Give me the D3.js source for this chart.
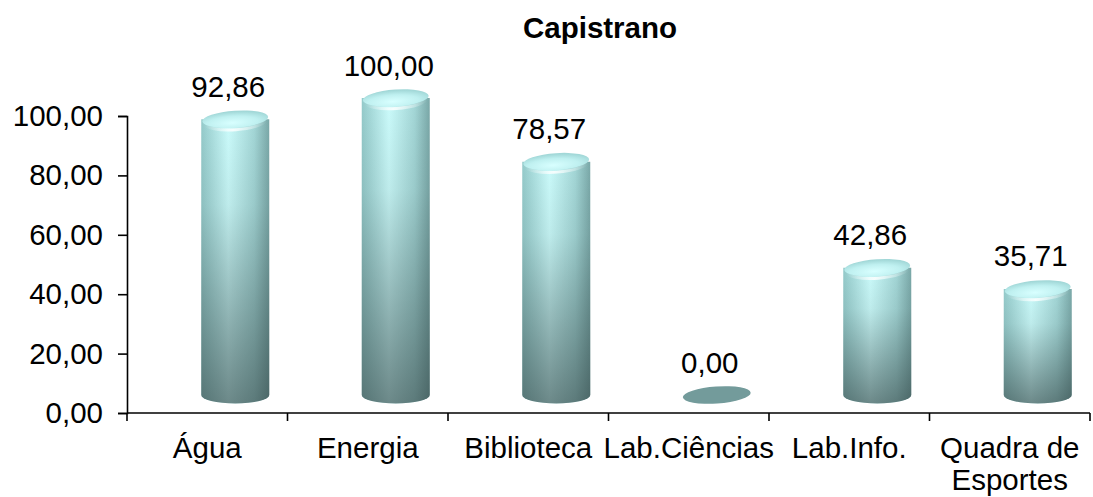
<!DOCTYPE html>
<html>
<head>
<meta charset="utf-8">
<script src="https://cdn.jsdelivr.net/npm/d3@7.9.0/dist/d3.min.js"></script>
<style>
  body { margin: 0; background: #fff; }
  svg { font-family: "Liberation Sans", Arial, sans-serif; }
</style>
</head>
<body>
<svg id="chart" width="1093" height="497"></svg>
<script>
const title = "Capistrano";
const categories = ["Água", "Energia", "Biblioteca", "Lab.Ciências", "Lab.Info.", "Quadra de Esportes"];
const values = [92.86, 100.00, 78.57, 0.00, 42.86, 35.71];
const yTicks = [0, 20, 40, 60, 80, 100];

const svg = d3.select("#chart");
const fmt = v => v.toFixed(2).replace(".", ",");
const fs = 29.5;

const x = d3.scaleBand().domain(categories).range([127, 1090]);
const y = d3.scaleLinear().domain([0, 100]).range([413, 116]);

// 3D floor offset
const depthX = 28, depthY = 18, rx = 34, ry = 8.5;

const defs = svg.append("defs");
const side = defs.append("linearGradient").attr("id", "side");
[[0, "#94caca"], [0.4, "#cbfbfb"], [0.78, "#a3d6d6"], [1, "#7aa8a8"]]
  .forEach(([o, c]) => side.append("stop").attr("offset", o).attr("stop-color", c));
const shade = defs.append("linearGradient").attr("id", "shade")
  .attr("x1", 0).attr("y1", 0).attr("x2", 0).attr("y2", 1);
[[0, "rgba(40,55,55,0)"], [0.3, "rgba(40,55,55,0.08)"], [1, "rgba(40,55,55,0.58)"]]
  .forEach(([o, c]) => shade.append("stop").attr("offset", o).attr("stop-color", c));
const cap = defs.append("radialGradient").attr("id", "cap")
  .attr("cx", 0.45).attr("cy", 0.7).attr("r", 0.65);
[[0, "#d8ffff"], [0.6, "#bff0f0"], [1, "#a2d8d8"]]
  .forEach(([o, c]) => cap.append("stop").attr("offset", o).attr("stop-color", c));
const rim = defs.append("linearGradient").attr("id", "rim");
[[0, "rgba(255,255,255,0)"], [0.45, "rgba(255,255,255,0.85)"], [1, "rgba(255,255,255,0)"]]
  .forEach(([o, c]) => rim.append("stop").attr("offset", o).attr("stop-color", c));

// title
svg.append("text")
  .attr("x", 600).attr("y", 38)
  .attr("text-anchor", "middle")
  .attr("font-size", fs).attr("font-weight", "bold")
  .text(title);

// y axis
const yAxis = svg.append("g")
  .attr("transform", "translate(127,0)")
  .call(d3.axisLeft(y).tickValues(yTicks).tickFormat(fmt).tickSize(9).tickPadding(15));
yAxis.selectAll("path, line").attr("stroke", "#000").attr("stroke-width", 1.6);
yAxis.selectAll("text").attr("font-size", fs).attr("fill", "#000")
  .attr("font-family", "Liberation Sans, Arial, sans-serif");

// x axis
const xg = svg.append("g");
xg.append("line")
  .attr("x1", 127).attr("x2", 1090).attr("y1", 413).attr("y2", 413)
  .attr("stroke", "#000").attr("stroke-width", 1.6);
xg.selectAll(".tick")
  .data(categories.map(c => x(c)).concat([x.range()[1]]))
  .join("line")
  .attr("x1", d => d).attr("x2", d => d)
  .attr("y1", 413).attr("y2", 421)
  .attr("stroke", "#000").attr("stroke-width", 1.6);
xg.selectAll(".lab")
  .data(categories)
  .join("text")
  .attr("text-anchor", "middle")
  .attr("font-size", fs)
  .each(function(d) {
    const words = d === "Quadra de Esportes" ? ["Quadra de", "Esportes"] : [d];
    d3.select(this).selectAll("tspan").data(words).join("tspan")
      .attr("x", x(d) + x.bandwidth() / 2)
      .attr("y", (w, i) => 458 + i * 32)
      .text(w => w);
  });

// cylinders
const bars = svg.append("g").selectAll("g")
  .data(categories.map((c, i) => ({ c, v: values[i] })))
  .join("g");

bars.each(function(d) {
  const g = d3.select(this);
  const cx = x(d.c) + x.bandwidth() / 2 + depthX;
  const base = y(0) - depthY;
  const top = base - (y(0) - y(d.v));
  const tilt = `rotate(-4,${cx},`;
  if (d.v > 0) {
    const body = `M${cx - rx},${top} L${cx - rx},${base} A${rx},${ry} 0 0 0 ${cx + rx},${base} L${cx + rx},${top} Z`;
    g.append("path").attr("d", body).attr("fill", "url(#side)");
    g.append("path").attr("d", body).attr("fill", "url(#shade)");
    g.append("path")
      .attr("d", `M${cx - rx + 3},${top + 2} A${rx - 3},${ry} 0 0 0 ${cx + rx - 3},${top + 2}`)
      .attr("transform", tilt + top + ")")
      .attr("fill", "none").attr("stroke", "url(#rim)").attr("stroke-width", 3);
    g.append("ellipse")
      .attr("cx", cx).attr("cy", top).attr("rx", rx - 1).attr("ry", ry)
      .attr("transform", tilt + top + ")")
      .attr("fill", "url(#cap)");
  } else {
    g.append("ellipse")
      .attr("cx", cx).attr("cy", base).attr("rx", rx).attr("ry", ry)
      .attr("transform", tilt + base + ")")
      .attr("fill", "#739b9b");
  }
  g.append("text")
    .attr("x", cx - 7).attr("y", top - ry - 14)
    .attr("text-anchor", "middle")
    .attr("font-size", fs)
    .text(fmt(d.v));
});
</script>
</body>
</html>
